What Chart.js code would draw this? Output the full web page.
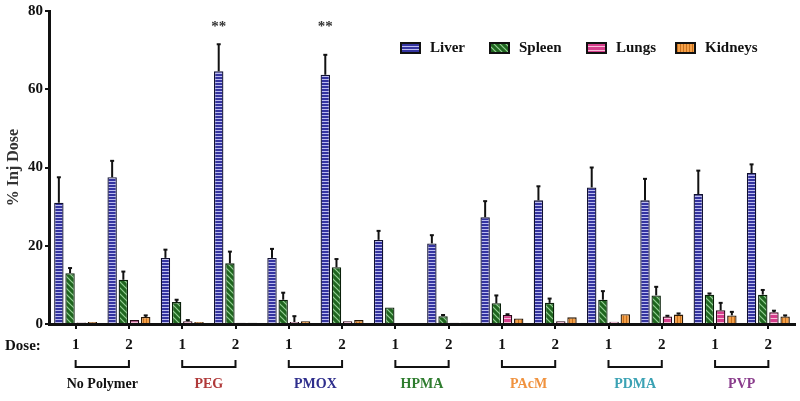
<!DOCTYPE html>
<html>
<head>
<meta charset="utf-8">
<script src="https://cdn.jsdelivr.net/npm/chart.js@4.4.1/dist/chart.umd.min.js"></script>
<style>
html,body{margin:0;padding:0;background:#fff;}
#wrap{width:800px;height:401px;position:relative;}
</style>
</head>
<body>
<div id="wrap"><canvas id="c" width="800" height="401"></canvas></div>
<script>
// ---- data ----
const doseLabels = ['1','2','1','2','1','2','1','2','1','2','1','2','1','2'];
const groups = ['No Polymer','PEG','PMOX','HPMA','PAcM','PDMA','PVP'];
const groupColors = ['#111111','#b03a3a','#2e2e8c','#2f7d2f','#f0923e','#3ba2b4','#8a3c8c'];
const seriesNames = ['Liver','Spleen','Lungs','Kidneys'];
const liver   = [31.0,37.5,16.9,64.6,16.9,63.7,21.5,20.6,27.3,31.6,34.9,31.6,33.2,38.6];
const liverSD = [6.5,4.2,2.1,6.9,2.3,5.1,2.3,2.1,4.1,3.6,5.1,5.5,6.0,2.2];
const spleen   = [13.0,11.3,5.6,15.5,6.2,14.5,4.2,2.0,5.3,5.4,6.2,7.3,7.5,7.5];
const spleenSD = [1.3,2.1,0.6,3.0,1.8,2.1,0,0.3,2.0,1.1,2.2,2.2,0.3,1.2];
const lungs   = [0.4,1.0,0.7,0.3,0.5,0.7,0.2,0.3,2.3,0.7,0.6,1.9,3.5,3.0];
const lungsSD = [0,0,0.3,0,1.5,0,0,0,0.2,0,0,0.2,1.9,0.4];
const kidneys   = [0.5,1.8,0.5,0.3,0.7,1.0,0.2,0.3,1.4,1.7,2.5,2.4,2.2,1.9];
const kidneysSD = [0,0.4,0,0,0,0,0,0,0,0,0,0.3,0.9,0.3];
const stars = ['','','','**','','**','','','','','','','',''];
const starLevel = 76;

// ---- patterns ----
function makePattern(w,h,draw){
  const cv=document.createElement('canvas'); cv.width=w; cv.height=h;
  const g=cv.getContext('2d'); draw(g,w,h);
  return g.createPattern(cv,'repeat');
}
const pLiver = makePattern(4,3,(g,w,h)=>{g.fillStyle='#3434a0';g.fillRect(0,0,w,h);g.fillStyle='#bcbcf0';g.fillRect(0,1,w,1);});
const pSpleen = makePattern(6,6,(g,w,h)=>{g.fillStyle='#1f661f';g.fillRect(0,0,w,h);g.strokeStyle='#94d094';g.lineWidth=1.2;
  g.beginPath();g.moveTo(0,0);g.lineTo(6,6);g.moveTo(-3,3);g.lineTo(3,9);g.moveTo(3,-3);g.lineTo(9,3);g.stroke();});
const pLungs = makePattern(4,4,(g,w,h)=>{g.fillStyle='#d63e8c';g.fillRect(0,0,w,h);g.fillStyle='#f8bcd8';g.fillRect(0,2,w,1);});
const pKidneys = makePattern(3,4,(g,w,h)=>{g.fillStyle='#f4a048';g.fillRect(0,0,w,h);g.fillStyle='#c8701c';g.fillRect(2,0,1,h);});
const patterns=[pLiver,pSpleen,pLungs,pKidneys];
const values=[liver,spleen,lungs,kidneys];
const sds=[liverSD,spleenSD,lungsSD,kidneysSD];
const borders=['#101030','#0a200a','#2a0a18','#2a1806'];

const SERIF="'Times New Roman','Liberation Serif',serif";

const extras = {
  id:'extras',
  afterDatasetsDraw(chart){
    const ctx=chart.ctx, y=chart.scales.y;
    ctx.save();
    chart.data.datasets.forEach((ds,di)=>{
      const meta=chart.getDatasetMeta(di);
      meta.data.forEach((el,i)=>{
        const sd=sds[di][i]; if(!sd) return;
        const yt=y.getPixelForValue(values[di][i]+sd);
        ctx.strokeStyle='#111'; ctx.lineWidth=2;
        ctx.beginPath(); ctx.moveTo(el.x,el.y); ctx.lineTo(el.x,yt); ctx.stroke();
        ctx.beginPath(); ctx.moveTo(el.x-2,yt); ctx.lineTo(el.x+2,yt); ctx.stroke();
      });
    });
    const m0=chart.getDatasetMeta(0);
    ctx.fillStyle='#333'; ctx.font='bold 15px '+SERIF; ctx.textAlign='center'; ctx.textBaseline='middle';
    stars.forEach((s,i)=>{ if(!s) return; ctx.fillText(s, m0.data[i].x, y.getPixelForValue(starLevel)); });
    ctx.restore();
  },
  afterDraw(chart){
    const ctx=chart.ctx, x=chart.scales.x, ca=chart.chartArea;
    ctx.save();
    ctx.fillStyle='#111'; ctx.font='bold 15px '+SERIF; ctx.textAlign='left'; ctx.textBaseline='middle';
    ctx.fillText('Dose:',5,ca.bottom+22);
    groups.forEach((gname,gi)=>{
      const x1=x.getPixelForValue(gi*2), x2=x.getPixelForValue(gi*2+1);
      const yb=ca.bottom+36, ye=ca.bottom+43;
      ctx.strokeStyle='#111'; ctx.lineWidth=2;
      ctx.beginPath(); ctx.moveTo(x1,yb); ctx.lineTo(x1,ye); ctx.lineTo(x2,ye); ctx.lineTo(x2,yb); ctx.stroke();
      ctx.fillStyle=groupColors[gi]; ctx.font='bold 14px '+SERIF; ctx.textAlign='center';
      ctx.fillText(gname,(x1+x2)/2,ca.bottom+60);
    });
    const lx=[400,489,586,675], ly=48;
    chart.data.datasets.forEach((ds,di)=>{
      ctx.fillStyle='#111'; ctx.fillRect(lx[di],ly-6,21,12);
      ctx.fillStyle=patterns[di]; ctx.fillRect(lx[di]+2,ly-4,17,8);
      ctx.fillStyle='#111'; ctx.font='bold 15px '+SERIF; ctx.textAlign='left'; ctx.textBaseline='middle';
      ctx.fillText(ds.label,lx[di]+30,ly);
    });
    ctx.restore();
  }
};

new Chart(document.getElementById('c'),{
  type:'bar',
  data:{
    labels:doseLabels.map((d,i)=>i),
    datasets:seriesNames.map((n,di)=>({
      label:n, data:values[di], backgroundColor:patterns[di],
      borderColor:borders[di], borderWidth:1.3,
      categoryPercentage:0.84, barPercentage:0.84
    }))
  },
  options:{
    responsive:false, animation:false,
    layout:{padding:{top:1,right:5,left:0,bottom:0}},
    plugins:{legend:{display:false},tooltip:{enabled:false}},
    scales:{
      x:{
        grid:{offset:false,drawOnChartArea:false,drawTicks:true,tickLength:5,lineWidth:2,color:'#111'},
        border:{display:true,width:3,color:'#111'},
        ticks:{color:'#111',font:{family:SERIF,size:15,weight:'bold'},padding:7,maxRotation:0,autoSkip:false,
          callback:(v,i)=>doseLabels[i]},
        afterFit:(s)=>{s.height=77;}
      },
      y:{
        min:0,max:80,
        ticks:{stepSize:20,color:'#111',font:{family:SERIF,size:15,weight:'bold'},padding:2},
        grid:{drawOnChartArea:false,drawTicks:true,tickLength:4,lineWidth:2,color:'#111'},
        border:{display:true,width:3,color:'#111'},
        title:{display:true,text:'% Inj Dose',color:'#333',font:{family:SERIF,size:16,weight:'bold'},padding:{top:4,bottom:0}},
        afterFit:(s)=>{s.width=49;}
      }
    }
  },
  plugins:[extras]
});
</script>
</body>
</html>
